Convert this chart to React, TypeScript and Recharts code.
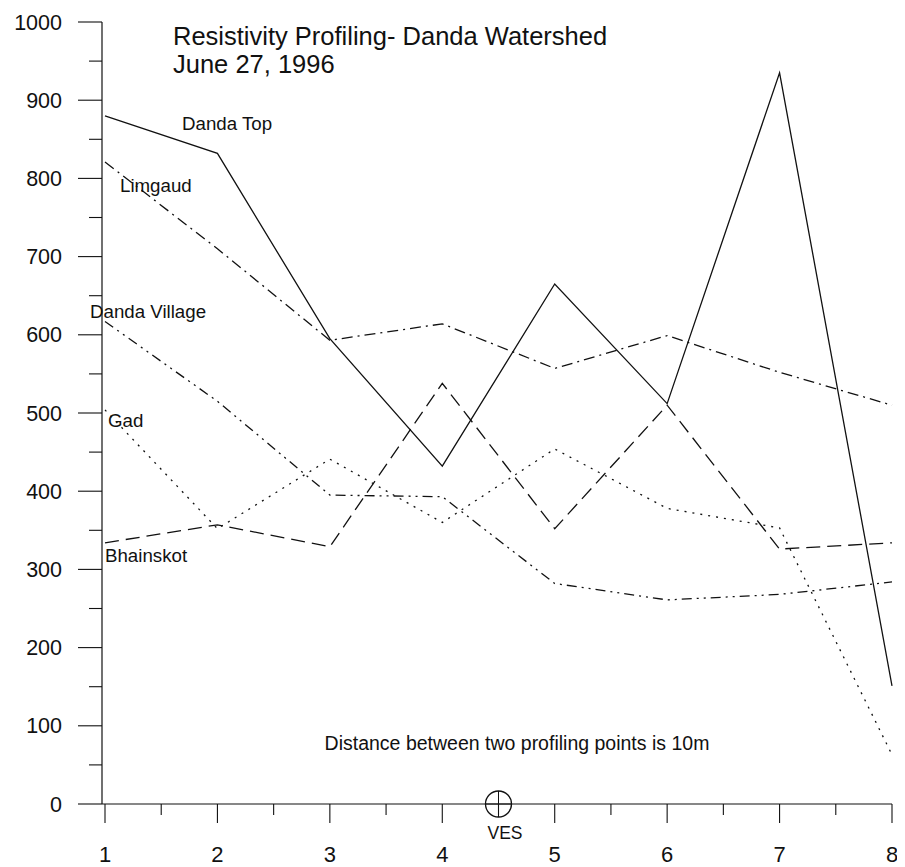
import React from 'react';
import { LineChart, Line, XAxis, YAxis, ReferenceDot, Customized } from 'recharts';

const profilePoints = [1, 2, 3, 4, 5, 6, 7, 8];
const dandaTop = [880, 832, 595, 432, 665, 512, 935, 151];
const limgaud = [821, 710, 593, 614, 557, 599, 552, 510];
const dandaVillage = [617, 515, 395, 393, 282, 261, 268, 284];
const gad = [504, 352, 441, 360, 454, 378, 353, 63];
const bhainskot = [334, 357, 329, 538, 352, 510, 326, 334];

const xTicks = [1, 1.5, 2, 2.5, 3, 3.5, 4, 4.5, 5, 5.5, 6, 6.5, 7, 7.5, 8];
const yTicks = [0, 50, 100, 150, 200, 250, 300, 350, 400, 450, 500, 550, 600, 650, 700, 750, 800, 850, 900, 950, 1000];
const vesPoint = 4.5;

const titleLines = ['Resistivity Profiling- Danda Watershed', 'June 27, 1996'];
const noteText = 'Distance between two profiling points is 10m';

const data = profilePoints.map((x, i) => ({
  x,
  dandaTop: dandaTop[i],
  limgaud: limgaud[i],
  dandaVillage: dandaVillage[i],
  gad: gad[i],
  bhainskot: bhainskot[i],
}));

const FONT = '"Liberation Sans", Arial, Helvetica, sans-serif';
const INK = '#111';

const YTick = (props: any) => {
  const { x, y, payload } = props;
  const v = payload.value;
  const major = v % 100 === 0;
  return (
    <g>
      <line x1={x - (major ? 24 : 13)} x2={x} y1={y} y2={y} stroke={INK} strokeWidth={1.1} />
      {major && (
        <text x={x - 40} y={y + 7.5} textAnchor="end" fontFamily={FONT} fontSize={21.5} fill={INK}>
          {v}
        </text>
      )}
    </g>
  );
};

const XTick = (props: any) => {
  const { x, y, payload } = props;
  const v = payload.value;
  const major = Number.isInteger(v);
  return (
    <g>
      <line x1={x} x2={x} y1={y} y2={y + (major ? 19 : 11)} stroke={INK} strokeWidth={1.1} />
      {major && (
        <text x={x} y={y + 58} textAnchor="middle" fontFamily={FONT} fontSize={22} fill={INK}>
          {v}
        </text>
      )}
    </g>
  );
};

const Annotations = () => (
  <g fontFamily={FONT} fill={INK}>
    <text x={165} y={37} fontSize={25.5}>{titleLines[0]}</text>
    <text x={165} y={65} fontSize={25.5}>{titleLines[1]}</text>
    <text x={174} y={122} fontSize={18.7}>Danda Top</text>
    <text x={112} y={184} fontSize={18.7}>Limgaud</text>
    <text x={82} y={310} fontSize={18.7}>Danda Village</text>
    <text x={100} y={419} fontSize={18.7}>Gad</text>
    <text x={97} y={554} fontSize={18.7}>Bhainskot</text>
    <text x={509} y={742} fontSize={19.5} textAnchor="middle">{noteText}</text>
    <text x={497} y={831} fontSize={17.5} textAnchor="middle">VES</text>
  </g>
);

const VesMarker = (props: any) => {
  const { cx, cy } = props;
  return (
    <g>
      <circle cx={cx} cy={cy} r={13} fill="none" stroke={INK} strokeWidth={1.3} />
      <line x1={cx - 13} x2={cx + 13} y1={cy} y2={cy} stroke={INK} strokeWidth={1} />
      <line x1={cx} x2={cx} y1={cy - 13} y2={cy + 13} stroke={INK} strokeWidth={1} />
    </g>
  );
};

export default function App() {
  return (
    <LineChart
      width={897}
      height={859}
      data={data}
      margin={{ top: 14, right: 13, bottom: 0, left: 0 }}
      style={{ background: '#fff' }}
    >
      <XAxis
        dataKey="x"
        type="number"
        domain={[1, 8]}
        ticks={xTicks}
        interval={0}
        padding={{ left: 3, right: 0 }}
        height={63}
        tickSize={0}
        tickMargin={0}
        tickLine={false}
        tick={<XTick />}
        axisLine={{ stroke: INK, strokeWidth: 1.2 }}
      />
      <YAxis
        type="number"
        domain={[0, 1000]}
        ticks={yTicks}
        interval={0}
        width={94}
        tickSize={0}
        tickMargin={0}
        tickLine={false}
        tick={<YTick />}
        axisLine={{ stroke: INK, strokeWidth: 1.2 }}
      />
      <Line type="linear" dataKey="dandaTop" stroke={INK} strokeWidth={1.3} dot={false} isAnimationActive={false} />
      <Line type="linear" dataKey="limgaud" stroke={INK} strokeWidth={1.3} strokeDasharray="11 5 2 5" dot={false} isAnimationActive={false} />
      <Line type="linear" dataKey="dandaVillage" stroke={INK} strokeWidth={1.3} strokeDasharray="10 5 2 5 2 5" dot={false} isAnimationActive={false} />
      <Line type="linear" dataKey="gad" stroke={INK} strokeWidth={1.3} strokeDasharray="2 6" dot={false} isAnimationActive={false} />
      <Line type="linear" dataKey="bhainskot" stroke={INK} strokeWidth={1.3} strokeDasharray="14 7" dot={false} isAnimationActive={false} />
      <ReferenceDot x={vesPoint} y={0} r={13} ifOverflow="visible" shape={(p: any) => <VesMarker {...p} />} />
      <Customized component={Annotations} />
    </LineChart>
  );
}
